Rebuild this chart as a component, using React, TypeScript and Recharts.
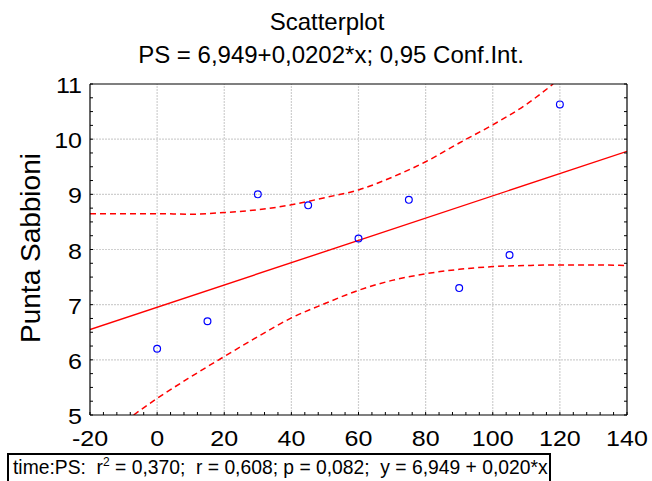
import React from "react";
import {
  ComposedChart,
  Line,
  ReferenceLine,
  Scatter,
  XAxis,
  YAxis,
} from "recharts";

// observed points (time vs Punta Sabbioni)
const OBS_X = [0, 15, 30, 45, 60, 75, 90, 105, 120];
const OBS_Y = [6.2, 6.7, 9.0, 8.8, 8.2, 8.9, 7.3, 7.9, 10.63];

// regression line PS = 6,949 + 0,0202*x, read at the frame edges
const FIT_X = [-20, 140];
const FIT_Y = [6.55, 9.78];

// 0,95 confidence band
const UPPER_X = [-20, -10, 0, 10, 20, 30, 40, 50, 60, 70, 80, 90, 100, 110, 118];
const UPPER_Y = [8.65, 8.65, 8.65, 8.64, 8.67, 8.72, 8.81, 8.94, 9.08, 9.31, 9.59, 9.93, 10.26, 10.63, 11.0];
const LOWER_X = [-7, 0, 10, 20, 30, 40, 50, 60, 70, 80, 90, 100, 110, 120, 130, 140];
const LOWER_Y = [5.0, 5.3, 5.69, 6.06, 6.42, 6.76, 7.02, 7.26, 7.44, 7.56, 7.64, 7.69, 7.71, 7.72, 7.72, 7.71];

const X_MAJOR = [-20, 0, 20, 40, 60, 80, 100, 120, 140];
const Y_MAJOR = [5, 6, 7, 8, 9, 10, 11];
// minor tick marks: 5 per 20 on x, 4 per unit on y
const X_MINOR = Array.from({ length: 41 }, (_, i) => -20 + i * 4);
const Y_MINOR = Array.from({ length: 25 }, (_, i) => 5 + i * 0.25);

const TITLE = "Scatterplot";
const SUBTITLE = "PS = 6,949+0,0202*x; 0,95 Conf.Int.";
const Y_LABEL = "Punta Sabbioni";

const toPoints = (xs: number[], ys: number[]) =>
  xs.map((x, i) => ({ x, y: ys[i] }));

const FONT = "'Liberation Sans', Arial, sans-serif";
const TICK_FONT = 21.5;
const STRETCH = 1.165;
const MARK = 3;

const isMajorX = (v: number) => Math.abs(v % 20) < 1e-6;
const isMajorY = (v: number) => Math.abs(v - Math.round(v)) < 1e-6;

type Side = "bottom" | "top" | "left" | "right";

function EdgeTick(props: any) {
  const { x, y, payload, side } = props as { x: number; y: number; payload: any; side: Side };
  const v = payload.value as number;
  let mark;
  if (side === "bottom") mark = <line x1={x} y1={y} x2={x} y2={y - MARK} />;
  else if (side === "top") mark = <line x1={x} y1={y} x2={x} y2={y + MARK} />;
  else if (side === "left") mark = <line x1={x} y1={y} x2={x + MARK} y2={y} />;
  else mark = <line x1={x} y1={y} x2={x - MARK} y2={y} />;

  let label = null;
  if (side === "bottom" && isMajorX(v)) {
    label = (
      <text
        transform={`translate(${x},${y + 30.5}) scale(${STRETCH},1)`}
        textAnchor="middle"
        fontSize={TICK_FONT}
        fontFamily={FONT}
        fill="#000"
        stroke="none"
      >
        {v}
      </text>
    );
  }
  if (side === "left" && isMajorY(v)) {
    label = (
      <text
        transform={`translate(${x - 8},${y + 9}) scale(${STRETCH},1)`}
        textAnchor="end"
        fontSize={TICK_FONT}
        fontFamily={FONT}
        fill="#000"
        stroke="none"
      >
        {v}
      </text>
    );
  }
  return (
    <g stroke="#000" strokeWidth={1}>
      {mark}
      {label}
    </g>
  );
}

function Ring(props: any) {
  const { cx, cy } = props;
  return <circle cx={cx} cy={cy} r={3.4} fill="none" stroke="#0000ff" strokeWidth={1.2} />;
}

export default function App() {
  const obs = toPoints(OBS_X, OBS_Y);
  const fit = toPoints(FIT_X, FIT_Y);
  const upper = toPoints(UPPER_X, UPPER_Y);
  const lower = toPoints(LOWER_X, LOWER_Y);

  const axisLine = { stroke: "#000", strokeWidth: 1.2 };

  return (
    <div
      style={{
        position: "absolute",
        left: 0,
        top: 0,
        width: 652,
        height: 481,
        overflow: "hidden",
        background: "#fff",
        fontFamily: FONT,
      }}
    >
      <ComposedChart
        width={652}
        height={481}
        margin={{ top: 83, right: 24, bottom: 26, left: 0 }}
      >
        {/* dotted grid at the major ticks */}
        {X_MAJOR.slice(1, -1).map((v) => (
          <ReferenceLine key={`gx${v}`} x={v} stroke="#cfcfcf" strokeDasharray="2 1" strokeWidth={1.2} />
        ))}
        {Y_MAJOR.slice(1, -1).map((v) => (
          <ReferenceLine key={`gy${v}`} y={v} stroke="#cfcfcf" strokeDasharray="2 1" strokeWidth={1.2} />
        ))}

        <XAxis
          dataKey="x"
          type="number"
          domain={[-20, 140]}
          ticks={X_MINOR}
          interval={0}
          allowDataOverflow
          height={40}
          tickSize={0}
          tickMargin={0}
          tickLine={false}
          axisLine={axisLine}
          tick={(p: any) => <EdgeTick {...p} side="bottom" />}
        />
        <XAxis
          xAxisId="top"
          orientation="top"
          type="number"
          domain={[-20, 140]}
          ticks={X_MINOR}
          interval={0}
          allowDataOverflow
          height={1}
          tickSize={0}
          tickMargin={0}
          tickLine={false}
          axisLine={axisLine}
          tick={(p: any) => <EdgeTick {...p} side="top" />}
        />
        <YAxis
          type="number"
          domain={[5, 11]}
          ticks={Y_MINOR}
          interval={0}
          allowDataOverflow
          width={90}
          tickSize={0}
          tickMargin={0}
          tickLine={false}
          axisLine={axisLine}
          tick={(p: any) => <EdgeTick {...p} side="left" />}
        />
        <YAxis
          yAxisId="right"
          orientation="right"
          type="number"
          domain={[5, 11]}
          ticks={Y_MINOR}
          interval={0}
          allowDataOverflow
          width={1}
          tickSize={0}
          tickMargin={0}
          tickLine={false}
          axisLine={axisLine}
          tick={(p: any) => <EdgeTick {...p} side="right" />}
        />

        <Line
          data={upper}
          dataKey="y"
          type="monotone"
          stroke="#ff0000"
          strokeWidth={1.5}
          strokeDasharray="6 4"
          dot={false}
          activeDot={false}
          isAnimationActive={false}
        />
        <Line
          data={lower}
          dataKey="y"
          type="monotone"
          stroke="#ff0000"
          strokeWidth={1.5}
          strokeDasharray="6 4"
          dot={false}
          activeDot={false}
          isAnimationActive={false}
        />
        <Line
          data={fit}
          dataKey="y"
          type="linear"
          stroke="#ff0000"
          strokeWidth={1.4}
          dot={false}
          activeDot={false}
          isAnimationActive={false}
        />
        <Scatter data={obs} dataKey="y" shape={<Ring />} isAnimationActive={false} />
      </ComposedChart>

      {/* titles and y axis label */}
      <svg
        width={652}
        height={481}
        style={{ position: "absolute", left: 0, top: 0, pointerEvents: "none" }}
      >
        <text x={327} y={30} textAnchor="middle" fontSize={24} fontFamily={FONT} fill="#000">
          {TITLE}
        </text>
        <text x={331} y={62.5} textAnchor="middle" fontSize={24} fontFamily={FONT} fill="#000">
          {SUBTITLE}
        </text>
        <text
          transform="translate(40,248) rotate(-90)"
          textAnchor="middle"
          fontSize={28}
          fontFamily={FONT}
          fill="#000"
        >
          {Y_LABEL}
        </text>
      </svg>

      {/* statistics box below the plot */}
      <div
        style={{
          position: "absolute",
          left: 7,
          top: 453,
          width: 544,
          height: 40,
          boxSizing: "border-box",
          border: "2px solid #000",
          paddingLeft: 4,
          paddingTop: 2,
          fontSize: 19.3,
          whiteSpace: "pre",
          color: "#000",
        }}
      >
        {"time:PS:  r"}
        <span style={{ fontSize: 12, position: "relative", top: -8 }}>2</span>
        {" = 0,370;  r = 0,608; p = 0,082;  y = 6,949 + 0,020*x"}
      </div>
    </div>
  );
}
